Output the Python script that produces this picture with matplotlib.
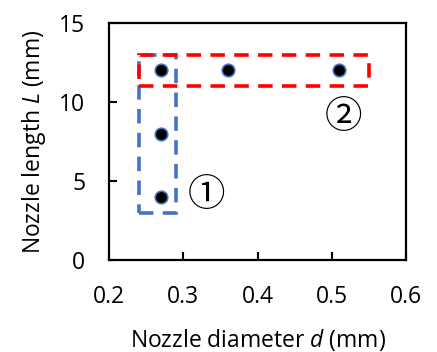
import matplotlib.pyplot as plt
from matplotlib.patches import Rectangle

# data points (nozzle diameter, nozzle length)
d_mm = [0.27, 0.27, 0.27, 0.36, 0.51]
L_mm = [4, 8, 12, 12, 12]

# groups: (x0, x1, y0, y1)
grp1 = [0.24, 0.29, 3, 13]
grp2 = [0.24, 0.55, 11, 13]

plt.rcParams['font.family'] = ['Open Sans', 'DejaVu Sans']
plt.rcParams['mathtext.fontset'] = 'custom'
plt.rcParams['mathtext.rm'] = 'Open Sans'
plt.rcParams['mathtext.it'] = 'Open Sans:italic'

fig = plt.figure(figsize=(4.37, 3.52), dpi=100)
ax = fig.add_axes([109/437, 92/352, 297/437, 237/352])

ax.add_patch(Rectangle((grp1[0], grp1[2]), grp1[1]-grp1[0], grp1[3]-grp1[2],
                       fill=False, ec='#4472C4', lw=2.6, ls=(0, (4, 2.6))))
ax.add_patch(Rectangle((grp2[0], grp2[2]), grp2[1]-grp2[0], grp2[3]-grp2[2],
                       fill=False, ec='#FF0000', lw=2.6, ls=(0, (4, 2.6))))

ax.plot(d_mm, L_mm, 'o', color='black', mec='#4472C4', mew=1.2, ms=9, zorder=3)

ax.text(0.331, 4.1, '①', fontsize=27, ha='center', va='center',
        family=['Noto Sans CJK JP'])
ax.text(0.516, 9.0, '②', fontsize=27, ha='center', va='center',
        family=['Noto Sans CJK JP'])

ax.set_xlim(0.2, 0.6)
ax.set_ylim(0, 15)
ax.set_xticks([0.2, 0.3, 0.4, 0.5, 0.6])
ax.set_xticklabels(['0.2', '0.3', '0.4', '0.5', '0.6'])
ax.set_yticks([0, 5, 10, 15])
ax.tick_params(direction='in', length=6, width=1.5, labelsize=16.5)
ax.tick_params(axis='x', pad=18)
ax.tick_params(axis='y', pad=17)
for s in ax.spines.values():
    s.set_linewidth(1.6)

ax.set_xlabel('Nozzle diameter $\\it{d}$ (mm)', fontsize=16.5, labelpad=13)
ax.set_ylabel('Nozzle length $\\it{L}$ (mm)', fontsize=16.5, labelpad=8)

fig.savefig('out.png', dpi=100)
